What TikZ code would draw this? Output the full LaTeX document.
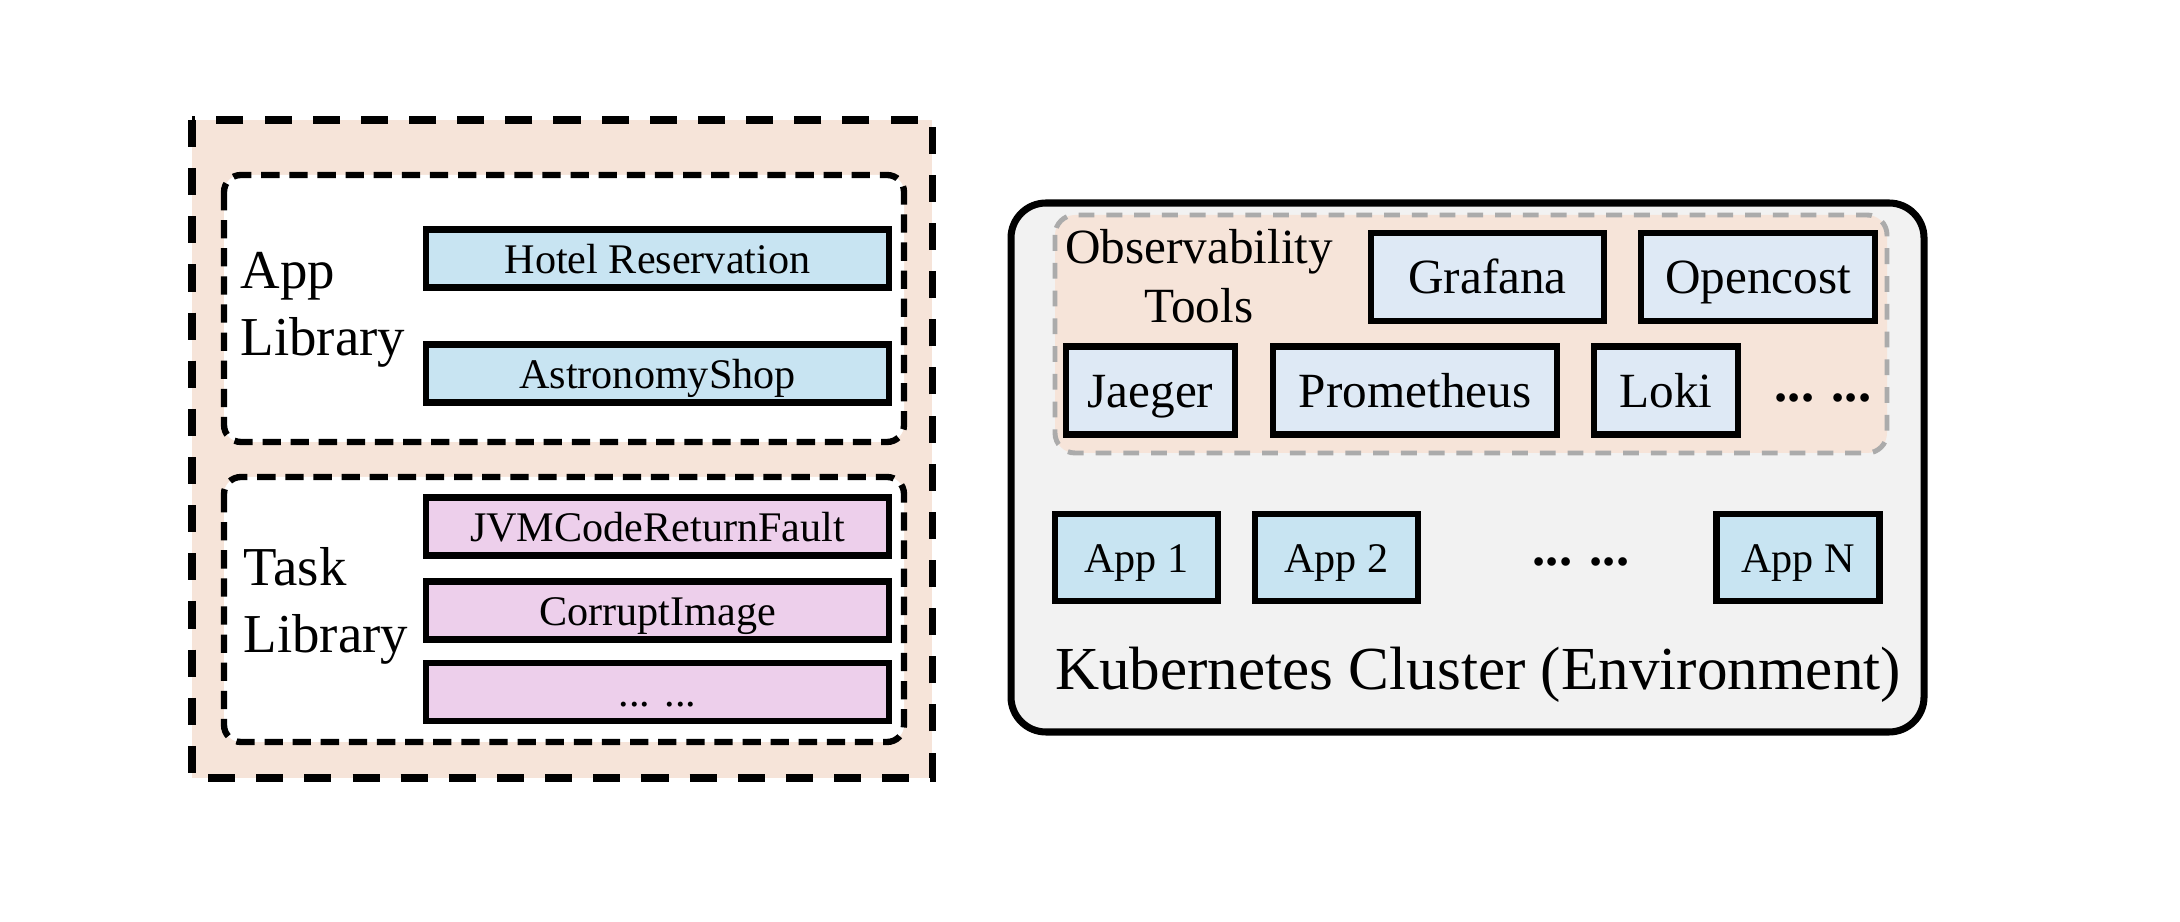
\documentclass[tikz,border=0pt]{standalone}
\usepackage{fontspec}
\setmainfont{Liberation Serif}

\definecolor{peach}{HTML}{F6E4D9}
\definecolor{appblue}{HTML}{C8E4F2}
\definecolor{toolblue}{HTML}{DEE9F5}
\definecolor{taskpink}{HTML}{EDCFEB}
\definecolor{clustergray}{HTML}{F2F2F2}
\definecolor{dashgray}{HTML}{ABABAB}

\begin{document}
\begin{tikzpicture}[
		outerdash/.style={line width=2pt, dash pattern=on 7.7pt off 6pt},
		libdash/.style={line width=1.8pt, dash pattern=on 5.2pt off 2.8pt, rounded corners=0.17cm},
		obsdash/.style={draw=dashgray, line width=1.4pt, dash pattern=on 4.5pt off 3.4pt, rounded corners=0.2cm},
		itembox/.style={draw=black, line width=1.9pt, inner sep=0pt, minimum width=4.63cm, minimum height=0.58cm,
			font=\fontsize{12}{14}\selectfont, text height=8.4pt, text depth=0pt},
		toolbox/.style={draw=black, line width=1.9pt, inner sep=0pt, minimum height=0.88cm, fill=toolblue,
			font=\fontsize{14}{16}\selectfont, text height=9.5pt, text depth=0pt},
		appbox/.style={draw=black, line width=1.9pt, inner sep=0pt, minimum width=1.63cm, minimum height=0.87cm, fill=appblue,
			font=\fontsize{12}{14}\selectfont, text height=8.4pt, text depth=0pt},
		liblabel/.style={inner sep=0pt, align=left, anchor=west, font=\fontsize{15.6}{19}\selectfont}
	]
		\useasboundingbox (0,0) rectangle (21.8,-9.22);

		% left: libraries
		\draw[outerdash, fill=peach] (1.92,-1.20) rectangle (9.32,-7.78);
		\draw[libdash, fill=white] (2.24,-1.75) rectangle (9.04,-4.42);
		\draw[libdash, fill=white] (2.24,-4.77) rectangle (9.04,-7.42);

		\node[liblabel] (applib) at (2.40,-3.10) {App\\Library};
		\node[itembox, fill=appblue] (hotel) at (6.575,-2.585) {Hotel Reservation};
		\node[itembox, fill=appblue] (astro) at (6.575,-3.735) {AstronomyShop};

		\node[liblabel] (tasklib) at (2.43,-6.06) {Task\\Library};
		\node[itembox, fill=taskpink] (jvm) at (6.575,-5.265) {JVMCodeReturnFault};
		\node[itembox, fill=taskpink] (corrupt) at (6.575,-6.105) {CorruptImage};
		\node[itembox, fill=taskpink] (moretask) at (6.575,-6.92) {... ...};

		% right: cluster
		\draw[line width=2pt, rounded corners=0.35cm, fill=clustergray] (10.11,-2.03) rectangle (19.24,-7.32);
		\draw[obsdash, fill=peach] (10.55,-2.15) rectangle (18.87,-4.53);

		\node[inner sep=0pt, align=center, font=\fontsize{14}{16.8}\selectfont] (obs) at (11.99,-2.76) {Observability\\Tools};
		\node[toolbox, minimum width=2.33cm] (grafana) at (14.875,-2.77) {Grafana};
		\node[toolbox, minimum width=2.34cm] (opencost) at (17.58,-2.77) {Opencost};
		\node[toolbox, minimum width=1.69cm] (jaeger) at (11.505,-3.905) {Jaeger};
		\node[toolbox, minimum width=2.84cm] (prom) at (14.15,-3.905) {Prometheus};
		\node[toolbox, minimum width=1.44cm] (loki) at (16.66,-3.905) {Loki};
		\node[inner sep=0pt, font=\fontsize{15}{17}\selectfont\bfseries] (moretools) at (18.23,-3.98) {... ...};

		\node[appbox] (app1) at (11.365,-5.575) {App 1};
		\node[appbox] (app2) at (13.365,-5.575) {App 2};
		\node[inner sep=0pt, font=\fontsize{15}{17}\selectfont\bfseries] (moreapps) at (15.81,-5.62) {... ...};
		\node[appbox] (appn) at (17.98,-5.575) {App N};

		\node[inner sep=0pt, anchor=base, font=\fontsize{17.4}{20}\selectfont] (k8s) at (14.78,-6.90) {Kubernetes Cluster (Environment)};
		\end{tikzpicture}
\end{document}
